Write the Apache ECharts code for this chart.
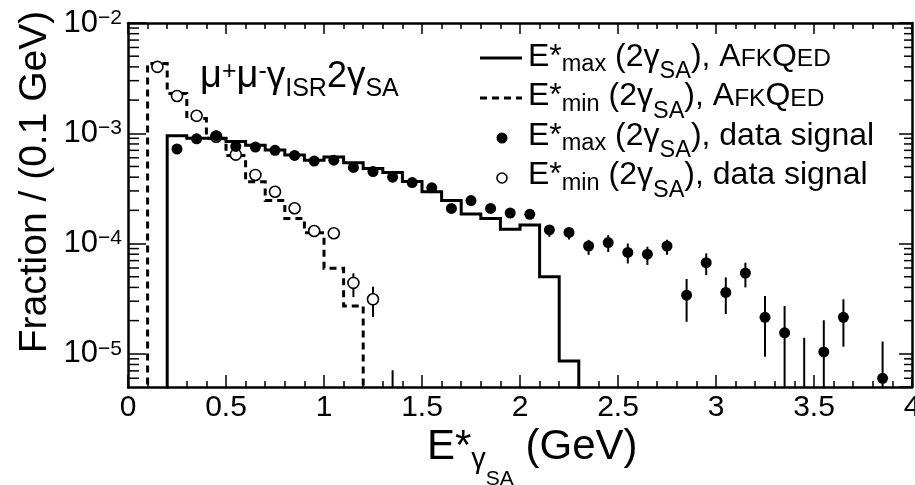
<!DOCTYPE html>
<html><head><meta charset="utf-8">
<script src="https://cdn.jsdelivr.net/npm/echarts@6/dist/echarts.min.js"></script>
<style>html,body{margin:0;padding:0;background:#fff}#c{width:915px;height:485px}</style>
</head><body><div id="c"></div>
<script>
const FONT = '"Liberation Sans", Arial, Helvetica, sans-serif';

// ---- axes ----
const xMin = 0, xMax = 4, xMajor = 0.5;
const yMin = 5e-6, yMax = 1e-2;
const yDecades = [1e-5, 1e-4, 1e-3, 1e-2];
const yDecadeLabels = ['{b|10}{s|−5}', '{b|10}{s|−4}', '{b|10}{s|−3}', '{b|10}{s|−2}'];

// ---- AfkQed E*max(2γSA) histogram (bin low edges, values) ----
const mcMaxEdges = [0.2,0.3,0.4,0.5,0.6,0.7,0.8,0.9,1.0,1.1,1.2,1.3,1.4,1.5,1.6,1.7,1.8,1.9,2.0,2.1,2.2];
const mcMaxValues = [9.5e-4,9.0e-4,8.9e-4,8.4e-4,7.8e-4,7.05e-4,6.35e-4,5.7e-4,6.1e-4,5.4e-4,4.8e-4,4.4e-4,3.65e-4,2.95e-4,2.45e-4,1.85e-4,1.69e-4,1.35e-4,1.47e-4,5.0e-5,8.6e-6];

// ---- AfkQed E*min(2γSA) histogram ----
const mcMinEdges = [0.1,0.2,0.3,0.4,0.5,0.6,0.7,0.8,0.9,1.0,1.1];
const mcMinValues = [4.3e-3,2.3e-3,1.36e-3,9.0e-4,6.3e-4,3.64e-4,2.45e-4,1.69e-4,1.25e-4,5.96e-5,2.71e-5];
const binWidth = 0.1;

// ---- data signal E*max(2γSA) ----
const dataMaxX = [0.25,0.35,0.45,0.55,0.65,0.75,0.85,0.95,1.05,1.15,1.25,1.35,1.45,1.55,1.65,1.75,1.85,1.95,2.05,2.15,2.25,2.35,2.45,2.55,2.65,2.75,2.85,2.95,3.05,3.15,3.25,3.35,3.45,3.55,3.65,3.75,3.85];
const dataMaxY = [7.2e-4,8.9e-4,9.5e-4,7.6e-4,7.5e-4,7.0e-4,6.3e-4,5.6e-4,5.7e-4,4.9e-4,4.5e-4,4.0e-4,3.57e-4,3.2e-4,2.08e-4,2.45e-4,2.08e-4,1.89e-4,1.84e-4,1.33e-4,1.26e-4,9.5e-5,1.02e-4,8.3e-5,8.0e-5,9.5e-5,3.4e-5,6.7e-5,3.6e-5,5.4e-5,2.14e-5,1.55e-5,null,1.04e-5,2.14e-5,null,6.0e-6];
const dataMaxErrHi = [null,null,null,null,null,null,null,null,null,null,null,null,null,null,null,null,null,null,null,1.43e-4,1.37e-4,1.08e-4,1.19e-4,1.0e-4,9.35e-5,1.08e-4,4.77e-5,8.15e-5,4.93e-5,6.7e-5,3.34e-5,2.71e-5,1.40e-5,2.02e-5,3.12e-5,null,1.29e-5];
const dataMaxErrLo = [null,null,null,null,null,null,null,null,null,null,null,null,null,null,null,null,null,null,null,1.15e-4,1.09e-4,7.9e-5,8.4e-5,6.6e-5,6.4e-5,7.9e-5,1.95e-5,5.18e-5,2.29e-5,4.0e-5,9.4e-6,0,0,0,1.16e-5,null,0];

// ---- data signal E*min(2γSA) ----
const dataMinX = [0.15,0.25,0.35,0.45,0.55,0.65,0.75,0.85,0.95,1.05,1.15,1.25,1.35];
const dataMinY = [4.0e-3,2.18e-3,1.44e-3,9.3e-4,6.4e-4,4.19e-4,2.95e-4,2.09e-4,1.30e-4,1.24e-4,4.4e-5,3.12e-5,null];
const dataMinErrHi = [null,null,null,null,null,null,null,null,null,null,5.37e-5,4.05e-5,7.1e-6];
const dataMinErrLo = [null,null,null,null,null,null,null,null,null,null,3.27e-5,2.16e-5,0];

// ---------------------------------------------------------------
const FLOOR = 1e-8; // stands in for zero on the log axis (below the frame)
function histPoints(edges, values, w, tailTo) {
  const pts = [[edges[0], FLOOR]];
  edges.forEach((e, i) => {
    const v = values[i] > 0 ? values[i] : FLOOR;
    pts.push([e, v], [Math.round((e + w) * 1000) / 1000, v]);
  });
  pts.push([Math.round((edges[edges.length - 1] + w) * 1000) / 1000, FLOOR]);
  return pts;
}
function pointData(xs, ys) {
  const out = [];
  xs.forEach((x, i) => { if (ys[i] != null) out.push([x, ys[i]]); });
  return out;
}
function errData(xs, lo, hi) {
  const out = [];
  xs.forEach((x, i) => { if (hi[i] != null) out.push([x, lo[i] > 0 ? lo[i] : FLOOR, hi[i]]); });
  return out;
}
const minorY = [];
for (let k = -6; k <= -3; k++) for (let m = 2; m <= 9; m++) {
  const v = m * Math.pow(10, k);
  if (v > yMin && v < yMax) minorY.push([0, v]);
}

const ctx = document.createElement('canvas').getContext('2d');
const MID = 0.3465;
function textRun(x, baseline, segs) {
  let cx = 0; const children = [];
  segs.forEach(([t, fs, dy]) => {
    const font = fs + 'px ' + FONT;
    ctx.font = font;
    children.push({type: 'text', x: cx, y: dy - MID * fs,
      style: {text: t, font: font, fill: '#000', textFill: '#000', align: 'left', verticalAlign: 'middle', textAlign: 'left', textVerticalAlign: 'middle'}});
    cx += ctx.measureText(t).width;
  });
  return {type: 'group', x: x, y: baseline, silent: true, children: children};
}

const chart = echarts.init(document.getElementById('c'), null, {renderer: 'canvas'});

const axisLineStyle = {color: '#000', width: 2.5};
const tickStyle = {color: '#000', width: 1.5};

const LF = 32, LS = 23.5, LC = 24.5; // legend fonts
function legendRow(baseline, sub, tail) {
  const segs = [['E*', LF, 0], [sub, LS, 5], [' (2γ', LF, 0], ['SA', LS, 12], ['), ', LF, 0]];
  return textRun(528, baseline, segs.concat(tail));
}
const afk = [['A', LF, 0], ['FK', LC, 0], ['Q', LF, 0], ['ED', LC, 0]];
const dsig = [['data signal', LF, 0]];

const option = {
  animation: false,
  backgroundColor: '#fff',
  grid: {left: 128, right: 3, top: 23, bottom: 98, containLabel: false, outerBoundsMode: 'none'},
  xAxis: [
    {type: 'value', min: xMin, max: xMax, interval: xMajor, position: 'bottom',
     axisLine: {show: true, onZero: false, lineStyle: axisLineStyle},
     axisTick: {show: true, inside: true, length: 12, lineStyle: tickStyle},
     minorTick: {show: true, splitNumber: 5, length: 6, lineStyle: tickStyle},
     splitLine: {show: false}, minorSplitLine: {show: false},
     axisLabel: {show: true, margin: 6, color: '#000', fontSize: 30, fontFamily: FONT, showMinLabel: true, showMaxLabel: true, hideOverlap: false}},
    {type: 'value', min: xMin, max: xMax, interval: xMajor, position: 'top',
     axisLine: {show: true, onZero: false, lineStyle: axisLineStyle},
     axisTick: {show: true, inside: true, length: 11, lineStyle: tickStyle},
     minorTick: {show: true, splitNumber: 5, length: 6, lineStyle: tickStyle},
     splitLine: {show: false}, axisLabel: {show: false}}
  ],
  yAxis: [
    {type: 'log', logBase: 10, min: yMin, max: yMax, position: 'left',
     axisLine: {show: true, onZero: false, lineStyle: axisLineStyle},
     axisTick: {show: true, inside: true, length: 18, lineStyle: tickStyle},
     splitLine: {show: false},
     axisLabel: {show: true, margin: 6, color: '#000', showMinLabel: false, hideOverlap: false,
       formatter: function (v) {
         for (let i = 0; i < yDecades.length; i++) if (Math.abs(Math.log10(v) - Math.log10(yDecades[i])) < 1e-6) return yDecadeLabels[i];
         return '';
       },
       rich: {b: {fontSize: 31, fontFamily: FONT, color: '#000', lineHeight: 31},
              s: {fontSize: 21, fontFamily: FONT, color: '#000', lineHeight: 21, verticalAlign: 'top'}}}},
    {type: 'log', logBase: 10, min: yMin, max: yMax, position: 'right',
     axisLine: {show: true, onZero: false, lineStyle: axisLineStyle},
     axisTick: {show: true, inside: true, length: 13, lineStyle: tickStyle},
     splitLine: {show: false}, axisLabel: {show: false}}
  ],
  series: [
    {type: 'custom', name: 'minorY', data: minorY, clip: false, silent: true, z: 5,
     encode: {x: 0, y: 1},
     renderItem: function (p, api) {
       const l = api.coord([xMin, api.value(1)]);
       const r = api.coord([xMax, api.value(1)]);
       return {type: 'group', children: [
         {type: 'line', shape: {x1: l[0], y1: l[1], x2: l[0] + 11, y2: l[1]}, style: {stroke: '#000', lineWidth: 1.5}},
         {type: 'line', shape: {x1: r[0] - 8, y1: r[1], x2: r[0], y2: r[1]}, style: {stroke: '#000', lineWidth: 1.5}}
       ]};
     }},
    {type: 'custom', name: 'errMax', data: errData(dataMaxX, dataMaxErrLo, dataMaxErrHi), clip: true, silent: true, z: 3,
     encode: {x: 0, y: [1, 2]},
     renderItem: function (p, api) {
       const a = api.coord([api.value(0), api.value(1)]);
       const b = api.coord([api.value(0), api.value(2)]);
       return {type: 'line', shape: {x1: a[0], y1: a[1], x2: b[0], y2: b[1]}, style: {stroke: '#000', lineWidth: 2}};
     }},
    {type: 'custom', name: 'errMin', data: errData(dataMinX, dataMinErrLo, dataMinErrHi), clip: true, silent: true, z: 3,
     encode: {x: 0, y: [1, 2]},
     renderItem: function (p, api) {
       const a = api.coord([api.value(0), api.value(1)]);
       const b = api.coord([api.value(0), api.value(2)]);
       return {type: 'line', shape: {x1: a[0], y1: a[1], x2: b[0], y2: b[1]}, style: {stroke: '#000', lineWidth: 2}};
     }},
    {type: 'line', name: 'E*max AfkQed', data: histPoints(mcMaxEdges, mcMaxValues, binWidth), showSymbol: false, symbol: 'none',
     clip: true, z: 4, lineStyle: {color: '#000', width: 3, cap: 'butt', join: 'miter'}, silent: true},
    {type: 'line', name: 'E*min AfkQed', data: histPoints(mcMinEdges, mcMinValues, binWidth), showSymbol: false, symbol: 'none',
     clip: true, z: 4, lineStyle: {color: '#000', width: 3, type: [7, 5], cap: 'butt', join: 'miter'}, silent: true},
    {type: 'scatter', name: 'E*min data', data: pointData(dataMinX, dataMinY), symbol: 'circle', symbolSize: 11, z: 6,
     itemStyle: {color: '#fff', borderColor: '#000', borderWidth: 1.6, opacity: 1}, silent: true},
    {type: 'scatter', name: 'E*max data', data: pointData(dataMaxX, dataMaxY), symbol: 'circle', symbolSize: 11, z: 7,
     itemStyle: {color: '#000', opacity: 1}, silent: true}
  ],
  graphic: [
    // process label
    textRun(200, 90, [['μ', 38, 0], ['+', 25, -9], ['μ', 38, 0], ['-', 25, -9], ['γ', 37, 0], ['ISR', 25, 8], ['2', 36, 0], ['γ', 37, 0], ['SA', 25, 8]]),
    // legend symbols
    {type: 'line', silent: true, shape: {x1: 480, y1: 58, x2: 522, y2: 58}, style: {stroke: '#000', lineWidth: 3}},
    {type: 'line', silent: true, shape: {x1: 480, y1: 98, x2: 522, y2: 98}, style: {stroke: '#000', lineWidth: 3, lineDash: [7, 5]}},
    {type: 'circle', silent: true, shape: {cx: 502, cy: 138, r: 5.5}, style: {fill: '#000'}},
    {type: 'circle', silent: true, shape: {cx: 502, cy: 178, r: 5}, style: {fill: '#fff', stroke: '#000', lineWidth: 1.6}},
    legendRow(68, 'max', afk),
    legendRow(107.5, 'min', afk),
    legendRow(147, 'max', dsig),
    legendRow(186.5, 'min', dsig),
    // x-axis title
    textRun(427, 462, [['E*', 42, 0], ['γ', 29, 8], ['SA', 21, 24], [' (GeV)', 42, 0]]),
    // y-axis title
    {type: 'text', x: 35, y: 182, rotation: Math.PI / 2, silent: true,
     style: {text: 'Fraction / (0.1 GeV)', font: '39px ' + FONT, fill: '#000', textFill: '#000', align: 'center', verticalAlign: 'middle', textAlign: 'center', textVerticalAlign: 'middle'}}
  ]
};
chart.setOption(option);
</script>
</body></html>
